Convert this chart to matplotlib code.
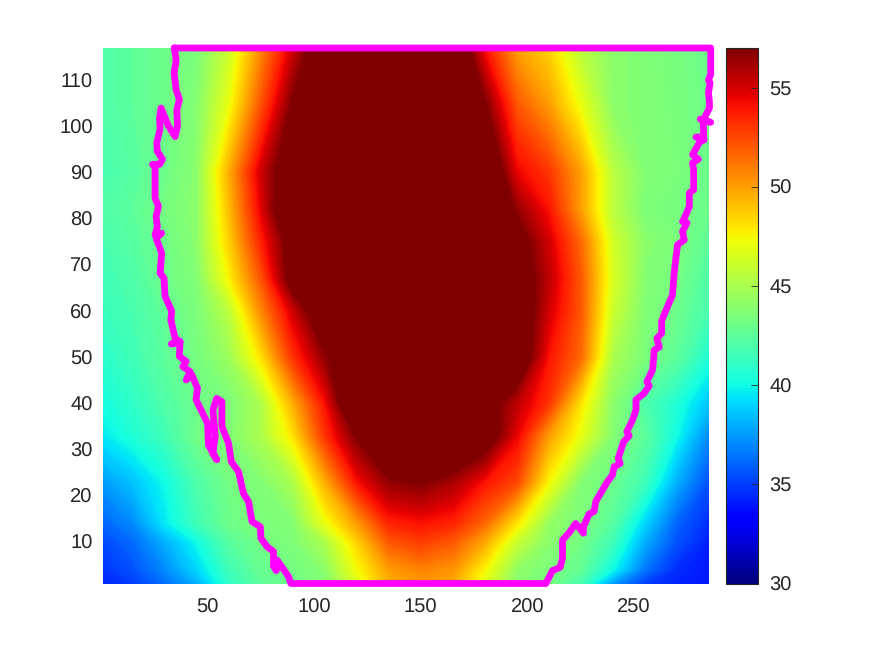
import numpy as np
import matplotlib
matplotlib.use("Agg")
import matplotlib.pyplot as plt
from matplotlib.cm import ScalarMappable
from matplotlib.colors import Normalize

plt.rcParams['font.family'] = ['Liberation Sans', 'DejaVu Sans']
plt.rcParams['text.hinting'] = 'none'

# grid the heat values were read on
col_x = [1, 15, 30, 45, 60, 75, 90, 105, 120, 135, 150, 165, 180, 195, 210, 225, 240, 255, 270, 285]
row_y = [1, 4, 10, 14, 23, 33, 40, 50, 60, 67, 75, 82, 90, 105, 117]

row_001 = [34.3, 35.0, 36.3, 38.0, 41.0, 42.5, 43.0, 43.7, 46.5, 49.5, 50.3, 49.7, 46.8, 44.0, 43.3, 41.8, 37.5, 35.0, 34.3, 34.0]
row_004 = [34.7, 35.5, 37.0, 39.0, 41.5, 42.8, 43.2, 44.0, 47.3, 50.0, 50.8, 50.3, 47.5, 44.2, 43.5, 42.7, 40.0, 36.5, 34.5, 34.0]
row_010 = [35.3, 36.2, 38.0, 40.0, 42.3, 43.2, 43.6, 45.0, 48.5, 52.0, 52.8, 52.0, 49.7, 46.0, 44.0, 43.2, 41.5, 38.0, 35.5, 34.2]
row_014 = [36.0, 37.0, 39.5, 41.5, 43.0, 43.5, 43.7, 47.0, 50.0, 53.5, 54.0, 53.5, 51.5, 48.0, 44.3, 43.5, 42.3, 39.0, 36.0, 34.5]
row_023 = [37.5, 38.5, 40.0, 42.0, 43.2, 43.7, 45.0, 49.5, 54.0, 56.5, 57.0, 56.0, 54.0, 52.5, 47.5, 43.8, 43.0, 41.5, 38.0, 35.5]
row_033 = [39.5, 40.5, 41.5, 43.2, 43.7, 45.0, 48.0, 53.0, 57.0, 60.0, 60.0, 60.0, 58.5, 54.5, 50.0, 47.0, 43.8, 42.5, 40.0, 37.0]
row_040 = [40.2, 41.0, 42.0, 43.0, 43.5, 45.0, 49.5, 54.0, 60.0, 60.0, 60.0, 60.0, 58.0, 55.5, 53.0, 48.0, 44.0, 42.0, 40.5, 38.5]
row_050 = [40.8, 41.5, 42.5, 43.3, 44.5, 48.0, 53.0, 56.5, 59.0, 60.0, 60.0, 60.0, 60.0, 59.0, 54.0, 51.5, 45.0, 43.5, 42.5, 40.5]
row_060 = [41.3, 41.8, 42.6, 43.5, 45.5, 50.5, 55.0, 59.0, 60.0, 60.0, 60.0, 60.0, 60.0, 59.0, 55.0, 52.0, 46.0, 43.7, 43.0, 41.8]
row_067 = [41.5, 42.0, 43.0, 43.7, 47.5, 52.0, 58.0, 60.0, 60.0, 60.0, 60.0, 60.0, 60.0, 58.5, 55.5, 52.0, 46.5, 43.8, 43.3, 42.0]
row_075 = [41.7, 42.3, 43.0, 44.0, 48.5, 53.5, 58.0, 60.0, 60.0, 60.0, 60.0, 60.0, 60.0, 58.0, 55.0, 51.5, 46.3, 44.0, 43.5, 42.5]
row_082 = [42.0, 42.5, 43.3, 44.0, 49.0, 54.5, 60.0, 60.0, 60.0, 60.0, 60.0, 60.0, 60.0, 56.5, 54.0, 50.0, 45.5, 43.6, 43.3, 43.0]
row_090 = [41.7, 42.3, 43.0, 44.0, 49.5, 55.0, 59.0, 60.0, 60.0, 60.0, 60.0, 60.0, 60.0, 54.5, 53.0, 50.0, 45.5, 43.7, 43.5, 43.0]
row_105 = [42.0, 42.5, 43.0, 43.8, 47.0, 52.0, 57.0, 60.0, 60.0, 60.0, 60.0, 60.0, 57.0, 52.0, 50.0, 47.0, 44.0, 43.7, 43.4, 43.0]
row_117 = [42.0, 42.5, 43.0, 43.5, 46.0, 50.5, 55.0, 59.0, 60.0, 60.0, 60.0, 60.0, 54.0, 50.0, 48.5, 45.5, 44.0, 43.7, 43.3, 43.0]

# magenta outline, clockwise-ish from the top left corner going down
edge_x = [34.6, 35.5, 34.5, 35.5, 37.0, 35.8, 36.1, 35.0, 31.9, 28.4, 27.7, 28.0, 26.4, 26.7, 29.1, 27.7, 24.4, 25.6, 25.6, 27.2,
          26.1, 26.7, 25.6, 28.7, 26.1, 28.7, 28.0, 29.8, 30.3, 33.4, 33.0, 35.0, 37.3, 33.4, 37.3, 37.0, 40.2, 38.6, 42.0, 40.2,
          42.8, 45.5, 44.8, 50.2, 50.6, 54.5, 52.7, 53.8, 52.7, 54.5, 56.9, 56.9, 60.0, 61.3, 64.7, 67.0, 69.4, 71.0, 74.9, 75.2,
          78.0, 81.1, 81.1, 82.4, 82.7, 88.1, 89.2,
          208.6, 211.7, 215.3, 216.4, 216.4, 219.5, 222.6, 226.2, 226.2, 228.9, 231.2, 232.0, 237.5, 239.8, 240.6, 243.4, 242.5, 245.0, 247.6,
          246.5, 249.2, 250.8, 250.8, 254.4, 257.0, 255.9, 258.6, 259.4, 261.7, 260.6, 262.8, 262.8, 263.6, 267.9, 268.7, 269.5, 270.3, 273.4,
          272.6, 274.7, 272.6, 274.2, 275.8, 275.8, 277.8, 277.8, 277.3, 280.0, 277.3, 280.9, 282.8, 278.9, 282.5, 282.3, 280.9, 285.8, 282.3,
          285.2, 285.2, 284.7, 285.5, 284.7, 285.8, 285.8, 34.6]
edge_y = [117.0, 114.4, 111.6, 107.9, 105.9, 103.6, 100.0, 97.8, 100.1, 104.0, 101.8, 99.6, 96.4, 94.6, 92.9, 91.8, 91.8, 91.5, 84.5, 82.7,
          80.5, 78.3, 76.5, 76.9, 75.8, 72.6, 68.2, 67.1, 63.2, 60.0, 58.1, 54.1, 53.4, 52.9, 53.4, 50.2, 49.1, 48.0, 46.9, 45.1,
          46.2, 43.3, 40.8, 35.7, 31.0, 27.8, 29.2, 32.8, 38.6, 41.1, 40.4, 35.0, 31.4, 27.4, 25.2, 20.5, 18.7, 14.4, 13.3, 10.8,
          9.0, 7.9, 4.7, 3.8, 6.1, 2.5, 1.0,
          1.0, 3.8, 4.5, 6.5, 10.4, 12.0, 14.0, 11.9, 13.3, 16.1, 16.6, 18.8, 23.1, 24.5, 26.3, 27.0, 28.1, 31.7, 33.0,
          33.9, 36.4, 38.6, 40.8, 42.1, 43.8, 44.7, 47.3, 51.6, 52.2, 54.1, 55.2, 57.7, 58.8, 63.5, 68.2, 71.5, 74.4, 75.4,
          77.3, 79.1, 79.4, 80.9, 82.7, 85.6, 86.3, 90.6, 92.1, 92.9, 93.9, 96.8, 97.1, 97.7, 97.8, 101.4, 101.6, 100.9, 101.4,
          104.0, 105.4, 107.2, 109.4, 110.1, 111.2, 117.0, 117.0]

bar_ticks = [30, 35, 40, 45, 50, 55]
x_ticks = [50, 100, 150, 200, 250]
y_ticks = [10, 20, 30, 40, 50, 60, 70, 80, 90, 100, 110]

W, H = 875, 656
GREY = '#262626'

heat = np.array([row_001, row_004, row_010, row_014, row_023, row_033, row_040, row_050, row_060,
                 row_067, row_075, row_082, row_090, row_105, row_117])

fig = plt.figure(figsize=(W / 100, H / 100), dpi=100)
ax = fig.add_axes([102.5 / W, (H - 583.5) / H, 606.5 / W, 535.5 / H])

levels = np.linspace(30, 57, 217)
ax.contourf(col_x, row_y, heat, levels=levels, cmap='jet', extend='both', antialiased=False)
ax.plot(edge_x, edge_y, color='#ff00ff', lw=4.9, clip_on=False, solid_joinstyle='round', solid_capstyle='round')

ax.set_xlim(1, 285)
ax.set_ylim(1, 117)
ax.set_xticks(x_ticks)
ax.set_yticks(y_ticks)
ax.tick_params(length=0, labelsize=14.5, labelcolor=GREY)
ax.tick_params(axis='x', pad=11)
ax.tick_params(axis='y', pad=7)
for s in ax.spines.values():
    s.set_visible(False)

cax = fig.add_axes([726 / W, (H - 583.5) / H, 32 / W, 535.5 / H])
sm = ScalarMappable(norm=Normalize(30, 57), cmap='jet')
cb = fig.colorbar(sm, cax=cax, ticks=bar_ticks)
cb.outline.set_edgecolor(GREY)
cb.outline.set_linewidth(0.8)
cax.tick_params(direction='in', length=5, width=0.6, color=GREY, labelsize=14.5, labelcolor=GREY, pad=8)

fig.savefig('out.png', dpi=100)
